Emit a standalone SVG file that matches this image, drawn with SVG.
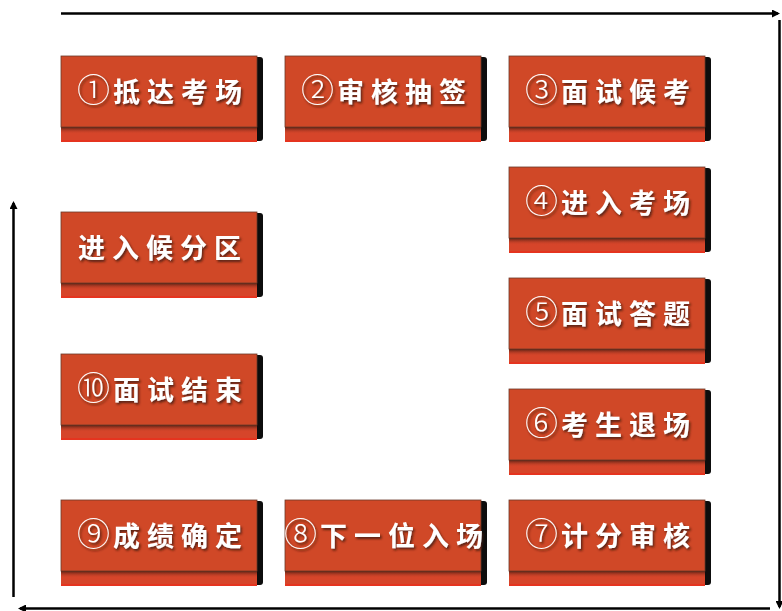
<svg xmlns="http://www.w3.org/2000/svg" width="782" height="611" viewBox="0 0 782 611">
<defs>
<style>
.sh{fill:#0d0d0d}
.base{fill:#D6452A}
.bl{fill:#E5341F}
.face{fill:#D04827;stroke:#6a3a2a;stroke-width:0.8}
.band{fill:url(#g)}
.t{font-family:"Noto Sans CJK SC","Noto Sans CJK JP",sans-serif;font-size:27px;font-weight:700;fill:#fff;letter-spacing:7px;text-anchor:middle;filter:url(#ts)}
.n{font-family:"Noto Sans CJK SC",sans-serif;font-size:33px;font-weight:300;letter-spacing:3px}
.ln{stroke:#000;stroke-width:2.5;fill:none;marker-end:url(#ah)}
</style>
<linearGradient id="g" x1="0" y1="0" x2="0" y2="1">
<stop offset="0" stop-color="#2a140c"/>
<stop offset="1" stop-color="#D6452A" stop-opacity="0"/>
</linearGradient>
<filter id="ts" x="-10%" y="-20%" width="120%" height="150%">
<feDropShadow dx="1.5" dy="2" stdDeviation="1" flood-color="#3a1208" flood-opacity="0.8"/>
</filter>
<marker id="ah" markerWidth="8" markerHeight="8" refX="6" refY="4" orient="auto" markerUnits="userSpaceOnUse" viewBox="0 0 8 8">
<path d="M0,0 L8,4 L0,8 Z" fill="#000"/>
</marker>
<g id="box">
<rect class="sh" x="4" y="1" width="198" height="84" rx="3"/>
<rect class="base" x="0" y="68" width="196" height="18"/>
<rect class="bl" x="0" y="84" width="196" height="2"/>
<rect class="band" x="0" y="70" width="196" height="8"/>
<rect class="face" x="0" y="0" width="196" height="71"/>
</g>
</defs>
<g id="connectors">
<line class="ln" x1="61" y1="13.5" x2="778" y2="13.5"/>
<line class="ln" x1="779.5" y1="20" x2="779.5" y2="607"/>
<line class="ln" x1="770" y1="608.5" x2="20" y2="608.5"/>
<line class="ln" x1="13.5" y1="597" x2="13.5" y2="203"/>
</g>
<g id="n1"><use href="#box" x="61" y="56"/><text class="t" x="163" y="102"><tspan class="n">①</tspan>抵达考场</text></g>
<g id="n2"><use href="#box" x="285" y="56"/><text class="t" x="387" y="102"><tspan class="n">②</tspan>审核抽签</text></g>
<g id="n3"><use href="#box" x="509" y="56"/><text class="t" x="611" y="102"><tspan class="n">③</tspan>面试候考</text></g>
<g id="n4"><use href="#box" x="509" y="167"/><text class="t" x="611" y="213"><tspan class="n">④</tspan>进入考场</text></g>
<g id="n5"><use href="#box" x="509" y="278"/><text class="t" x="611" y="324"><tspan class="n">⑤</tspan>面试答题</text></g>
<g id="n6"><use href="#box" x="509" y="389"/><text class="t" x="611" y="435"><tspan class="n">⑥</tspan>考生退场</text></g>
<g id="n7"><use href="#box" x="509" y="500"/><text class="t" x="611" y="546"><tspan class="n">⑦</tspan>计分审核</text></g>
<g id="n8"><use href="#box" x="285" y="500"/><text class="t" x="387" y="546"><tspan class="n">⑧</tspan>下一位入场</text></g>
<g id="n9"><use href="#box" x="61" y="500"/><text class="t" x="163" y="546"><tspan class="n">⑨</tspan>成绩确定</text></g>
<g id="n10"><use href="#box" x="61" y="354"/><text class="t" x="163" y="400"><tspan class="n">⑩</tspan>面试结束</text></g>
<g id="n0"><use href="#box" x="61" y="212"/><text class="t" x="163" y="258">进入候分区</text></g>
</svg>
